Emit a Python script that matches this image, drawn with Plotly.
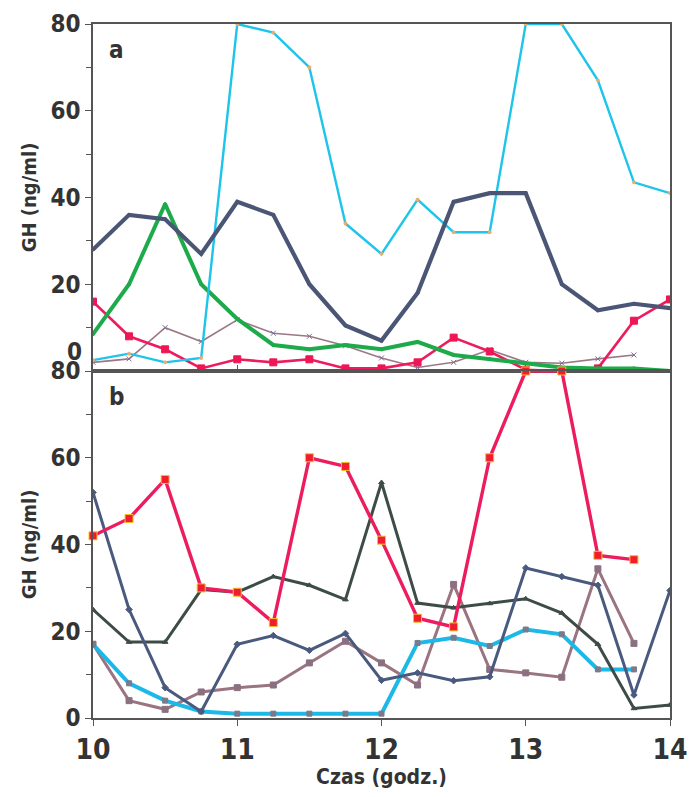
import plotly.graph_objects as go
from plotly.subplots import make_subplots

# ---- data ----
czas = [10, 10.25, 10.5, 10.75, 11, 11.25, 11.5, 11.75, 12,
        12.25, 12.5, 12.75, 13, 13.25, 13.5, 13.75, 14]

# panel a
a_cyan = [2.5, 4, 2, 3, 80, 78, 70, 34, 27, 39.5, 32, 32, 80, 80, 67, 43.5, 41]
a_navy = [28, 36, 35, 27, 39, 36, 20, 10.5, 7, 18, 39, 41, 41, 20, 14, 15.5, 14.5]
a_green = [8.5, 20, 38.5, 20, 12, 6, 5, 6, 5, 6.7, 3.7, 2.8, 1.8, 0.8, 0.6, 0.6, 0]
a_pink = [16, 8, 5, 0.6, 2.7, 2, 2.7, 0.6, 0.6, 2, 7.7, 4.5, 0.3, 0, 0.6, 11.6, 16.5]
a_mauve = [2, 2.8, 10, 6.8, 11.8, 8.7, 8, 5.8, 3, 0.8, 2, 4.9, 2, 1.8, 2.8, 3.7, None]

# panel b
b_pink = [42, 46, 55, 30, 29, 22, 60, 58, 41, 23, 21, 60, 80, 80, 37.5, 36.5, None]
b_navy = [52, 25, 7, 1.5, 17, 19, 15.6, 19.5, 8.7, 10.4, 8.6, 9.5, 34.6, 32.6, 30.6, 5.3, 29.4]
b_slate = [25, 17.5, 17.5, 29.6, 29, 32.6, 30.6, 27.3, 54.3, 26.5, 25.4, 26.4, 27.5, 24.2, 17, 2.2, 3]
b_cyan = [17, 8, 4, 1.5, 1, 1, 1, 1, 1, 17.3, 18.5, 16.6, 20.4, 19.3, 11.2, 11.2, None]
b_mauve = [17, 4, 2, 6, 7, 7.6, 12.7, 17.7, 12.7, 7.6, 30.8, 11.2, 10.4, 9.4, 34.4, 17.2, None]

y_ticks_a = [20, 40, 60, 80]
y_ticks_b = [0, 20, 40, 60, 80]
x_ticks = [10, 11, 12, 13, 14]

FONT = "DejaVu Sans Condensed, Liberation Sans Narrow, Arial Narrow, sans-serif"
TXT = "#333333"

fig = make_subplots(rows=2, cols=1, shared_xaxes=True, vertical_spacing=0)


def add(y, row, color, width, symbol, msize, mcolor=None, mline=None, clip=True):
    fig.add_trace(go.Scatter(
        x=czas, y=y, mode="lines+markers",
        line=dict(color=color, width=width),
        marker=dict(symbol=symbol, size=msize, color=mcolor or color,
                    line=dict(color=mline or (mcolor or color), width=1)),
        cliponaxis=clip, showlegend=False, connectgaps=False,
    ), row=row, col=1)


# panel a traces
add(a_mauve, 1, "#9A7886", 1.6, "x-thin", 5, mline="#7E6C9A")
add(a_pink, 1, "#EC1C5E", 2.6, "square", 7, mcolor="#EE1654")
add(a_green, 1, "#1DAA4A", 4, "circle", 3)
add(a_cyan, 1, "#1EC4EA", 2.4, "circle", 3, mcolor="#E8B070")
add(a_navy, 1, "#4B5676", 4.2, "circle", 3)

# panel b traces
add(b_mauve, 2, "#9A7480", 3, "square", 6, mcolor="#8A7080")
add(b_cyan, 2, "#1CB8E8", 4, "square", 5, mcolor="#7A7A8A")
add(b_slate, 2, "#3E4C48", 3, "triangle-up", 5)
add(b_navy, 2, "#4A5A7E", 3, "diamond", 5)
add(b_pink, 2, "#EC1C5E", 3.4, "square", 8, mcolor="#F01C30", mline="#F5C020", clip=False)

axis_line = "#555555"
tickfont = dict(family=FONT, size=24, color=TXT, weight="bold")

fig.update_xaxes(range=[10, 14], tickvals=x_ticks, showline=True, linecolor=axis_line,
                 linewidth=1.5, mirror=True, ticks="outside", ticklen=6,
                 tickcolor=axis_line, showgrid=False, zeroline=False, automargin=False,
                 tickfont=dict(family=FONT, size=28, color=TXT, weight="bold"))
fig.update_xaxes(showticklabels=False, ticks="inside", row=1, col=1)
fig.update_xaxes(title=dict(text="<b>Czas (godz.)</b>",
                            font=dict(family=FONT, size=21, color=TXT),
                            standoff=2), row=2, col=1)

for row, tv in ((1, y_ticks_a), (2, y_ticks_b)):
    fig.update_yaxes(range=[0, 80], tickvals=tv, showline=True, linecolor=axis_line,
                     linewidth=1.5, mirror=True, ticks="outside", ticklen=6,
                     tickcolor=axis_line, showgrid=False, zeroline=False, automargin=False,
                     tickfont=tickfont,
                     minor=dict(tickvals=[10, 30, 50, 70], ticks="outside", ticklen=5,
                                tickcolor=axis_line),
                     title=dict(text="<b>GH (ng/ml)</b>",
                                font=dict(family=FONT, size=20, color=TXT),
                                standoff=8),
                     row=row, col=1)

# the page body adds an 8 px margin, so the figure is sized to fit inside it
fig.update_layout(
    width=681, height=781,
    margin=dict(l=85, r=19, t=16, b=71, autoexpand=False),
    paper_bgcolor="white", plot_bgcolor="white",
    font=dict(family=FONT, color=TXT),
)

# panel a "0" label (raised above the shared border) and panel letters
fig.add_annotation(x=0, xref="paper", xanchor="right", xshift=-9,
                   y=0, yref="y", yshift=19, text="<b>0</b>", showarrow=False,
                   font=dict(family=FONT, size=24, color=TXT))
fig.add_annotation(x=10.1, y=74, xref="x", yref="y", text="<b>a</b>", showarrow=False,
                   xanchor="left", font=dict(family=FONT, size=24, color=TXT))
fig.add_annotation(x=10.1, y=74, xref="x2", yref="y2", text="<b>b</b>", showarrow=False,
                   xanchor="left", font=dict(family=FONT, size=24, color=TXT))

fig.write_html("out.html")
